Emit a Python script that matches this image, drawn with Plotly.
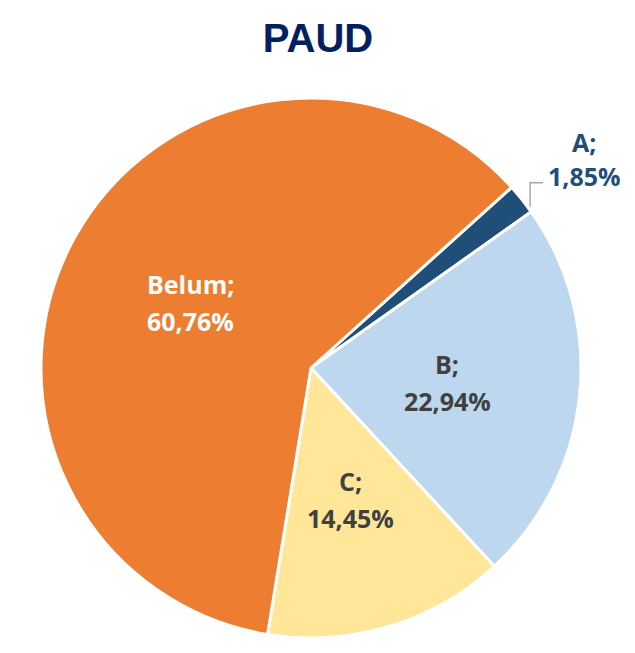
import math
import plotly.graph_objects as go

labels = ["A", "B", "C", "Belum"]
values = [1.85, 22.94, 14.45, 60.76]
colors = ["#1F4E79", "#BDD7EE", "#FFE699", "#ED7D31"]
text_colors = ["#1F4E79", "#404040", "#404040", "#FFFFFF"]
outside = [True, False, False, False]

W, H = 635, 653
OFF = 8               # page margin around the plot div, in px
PCX, PCY = 311, 368   # pie centre on screen, px
R = 269               # pie radius, px
ROT = 48
LABEL_FRAC = 0.51
FS = 25
LINE_GAP = 37

def pct(v):
    return f"{v:.2f}".replace(".", ",") + "%"

def px2paper(x, y):
    return (x - OFF) / W, 1 - (y - OFF) / H

x0, y1 = px2paper(PCX - R - 1, PCY - R - 1)
x1, y0 = px2paper(PCX + R + 1, PCY + R + 1)

fig = go.Figure(go.Pie(
    labels=labels,
    values=values,
    sort=False,
    direction="clockwise",
    rotation=ROT,
    marker=dict(colors=colors, line=dict(color="white", width=3)),
    textinfo="none",
    hoverinfo="label+percent",
    showlegend=False,
    domain=dict(x=[x0, x1], y=[y0, y1]),
))

def add_text(x, y, txt, color, xanchor="center"):
    px, py = px2paper(x, y)
    fig.add_annotation(x=px, y=py, xref="paper", yref="paper", showarrow=False,
                       xanchor=xanchor, yanchor="middle", text=f"<b>{txt}</b>",
                       font=dict(family="Open Sans", size=FS, color=color))

total = sum(values)
start = ROT
for lab, v, tc, o in zip(labels, values, text_colors, outside):
    span = 360 * v / total
    mid = math.radians(start + span / 2)
    lead = math.radians(start + span * 0.85)
    start += span
    if o:
        ex = PCX + (R + 3) * math.sin(lead)
        ey = PCY - (R + 3) * math.cos(lead)
        ky = ey - 24
        kx = ex + 13
        p0, p1, p2 = px2paper(ex, ey), px2paper(ex, ky), px2paper(kx, ky)
        fig.add_shape(type="path", xref="paper", yref="paper",
                      path=f"M {p0[0]},{p0[1]} L {p1[0]},{p1[1]} L {p2[0]},{p2[1]}",
                      line=dict(color="#A6A6A6", width=1.5))
        cx_text = kx + 5 + 36
        add_text(cx_text, ky - 7 - 34, f"{lab};", tc)
        add_text(cx_text, ky - 7, pct(v), tc)
    else:
        rr = LABEL_FRAC * R
        cx_l = PCX + rr * math.sin(mid)
        cy_l = PCY - rr * math.cos(mid)
        add_text(cx_l, cy_l - LINE_GAP / 2, f"{lab};", tc)
        add_text(cx_l, cy_l + LINE_GAP / 2, pct(v), tc)

tx, ty = px2paper(318, 38)
fig.update_layout(
    width=W, height=H,
    margin=dict(l=0, r=0, t=0, b=0),
    paper_bgcolor="white",
    title=dict(text="<b>PAUD</b>", x=tx, xanchor="center", y=ty, yanchor="middle",
               font=dict(family="Liberation Sans, Arial", size=40, color="#002060")),
)

fig.write_html("out.html")
